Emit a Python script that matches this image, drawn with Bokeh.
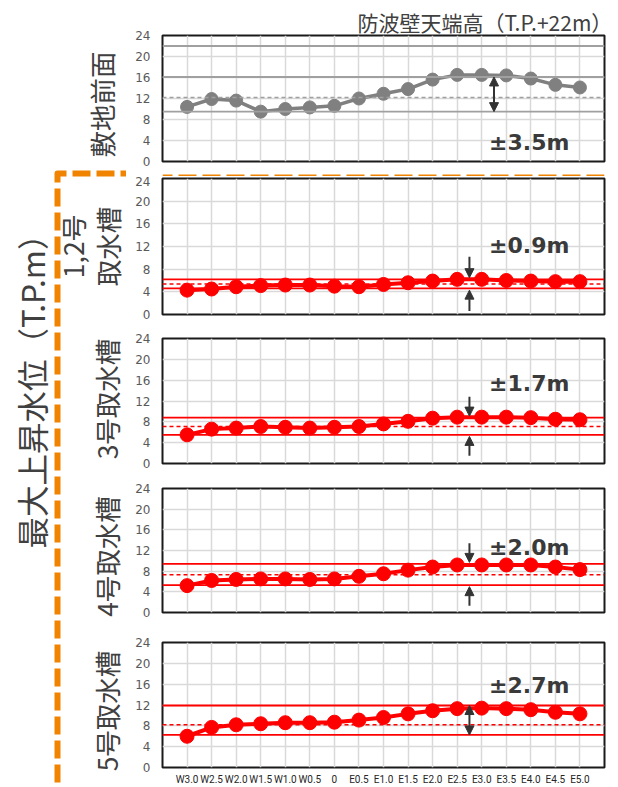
import numpy as np
from bokeh.plotting import figure
from bokeh.models import Range1d, FixedTicker, Arrow, NormalHead, Span
from bokeh.layouts import row, column
from bokeh.core.properties import value
from bokeh.embed import file_html
from bokeh.resources import INLINE

# ---------------- data ----------------
categories = ["W3.0", "W2.5", "W2.0", "W1.5", "W1.0", "W0.5", "0", "E0.5", "E1.0",
              "E1.5", "E2.0", "E2.5", "E3.0", "E3.5", "E4.0", "E4.5", "E5.0"]
site_front = [10.4, 11.9, 11.6, 9.5, 10.0, 10.3, 10.6, 12.0, 12.9, 13.8, 15.6, 16.5, 16.5, 16.4, 15.8, 14.6, 14.1]
intake_12 = [4.3, 4.5, 4.9, 5.1, 5.2, 5.2, 5.0, 4.9, 5.3, 5.6, 5.9, 6.2, 6.2, 6.0, 5.9, 5.8, 5.8]
intake_3 = [5.5, 6.6, 6.8, 7.1, 6.95, 6.8, 6.95, 7.1, 7.6, 8.1, 8.7, 8.9, 8.9, 8.9, 8.8, 8.5, 8.4]
intake_4 = [5.2, 6.2, 6.4, 6.5, 6.5, 6.4, 6.5, 7.0, 7.5, 8.2, 8.8, 9.2, 9.2, 9.2, 9.2, 8.8, 8.3]
intake_5 = [6.0, 7.7, 8.2, 8.4, 8.6, 8.6, 8.7, 9.1, 9.6, 10.3, 10.9, 11.3, 11.4, 11.3, 11.1, 10.6, 10.3]

panel_names = ["敷地前面", "1,2号\n取水槽", "3号取水槽", "4号取水槽", "5号取水槽"]
band_lower = [9.5, 4.6, 5.5, 5.3, 6.25]
band_mid = [12.2, 5.4, 7.1, 7.3, 8.2]
band_upper = [16.1, 6.2, 8.8, 9.4, 11.9]
band_labels = ["±3.5m", "±0.9m", "±1.7m", "±2.0m", "±2.7m"]
arrow_after = ["E3.0", "E2.5", "E2.5", "E2.5", "E2.5"]
arrow_style = ["double", "outer", "outer", "outer", "double"]
wall_height = 22
wall_label = "防波壁天端高（T.P.+22m）"
y_ticks = [0, 4, 8, 12, 16, 20, 24]
y_title = "最大上昇水位（T.P.m）"

series = [site_front, intake_12, intake_3, intake_4, intake_5]

# ---------------- layout / style ----------------
W_TOTAL, H_TOTAL = 618, 787
LEFT_W = 126
RIGHT_W = W_TOTAL - LEFT_W
STRIP_H = 8
# (figure height, border top, border bottom)
panel_layout = [(168, 35, 7), (150, 2, 12), (149, 12, 12), (151, 13, 14), (161, 16, 20)]
label_y = [3.6, 12.2, 15.3, 12.6, 15.8]
label_x = 13.3
name_x = [101, 89.5, 106, 106, 106]
name_dy = [6, 0, -2, 6, 6]
NAME_LINE = 35

GREY = "#808080"
RED = "#ff0000"
DARK = "#404040"
ORANGE = "#f08300"
CJK = "Noto Sans CJK JP"

x = np.arange(1, len(categories) + 1)
cat_pos = {c: i + 1 for i, c in enumerate(categories)}


def head():
    return NormalHead(size=9, fill_color="#333333", line_color="#333333")


panels = []
frame_centers = []
page_top = 0
for i in range(5):
    h, bt, bb = panel_layout[i]
    p = figure(width=RIGHT_W, height=h, x_range=Range1d(0, len(categories) + 1),
               y_range=Range1d(0, 24), output_backend="svg", toolbar_location=None,
               min_border_left=162 - LEFT_W, min_border_right=W_TOTAL - 604, min_border_top=bt,
               min_border_bottom=bb)
    frame_centers.append(page_top + bt + (h - bt - bb) / 2)
    page_top += h
    if i == 0:
        page_top += STRIP_H
    p.background_fill_color = "white"
    p.border_fill_color = "white"
    p.outline_line_color = "#1a1a1a"
    p.outline_line_width = 2
    # axes
    p.yaxis.ticker = FixedTicker(ticks=y_ticks)
    p.yaxis.axis_line_color = None
    p.yaxis.major_tick_line_color = None
    p.yaxis.minor_tick_line_color = None
    p.yaxis.major_tick_out = 0
    p.yaxis.major_label_standoff = 12
    p.yaxis.major_label_text_font = "DejaVu Sans"
    p.yaxis.major_label_text_font_size = "12px"
    p.yaxis.major_label_text_color = "#595959"
    p.xaxis.ticker = FixedTicker(ticks=list(x))
    p.xaxis.major_label_overrides = {int(k): c for k, c in zip(x, categories)}
    p.xaxis.axis_line_color = None
    p.xaxis.major_tick_line_color = None
    p.xaxis.minor_tick_line_color = None
    p.xaxis.major_tick_out = 0
    p.xaxis.major_label_standoff = 6
    p.xaxis.major_label_text_font = "Roboto"
    p.xaxis.major_label_text_font_size = "10px"
    p.xaxis.major_label_text_color = "#262626"
    p.xaxis.visible = (i == 4)
    # grid
    p.xgrid.ticker = FixedTicker(ticks=list(x))
    p.ygrid.ticker = FixedTicker(ticks=y_ticks)
    p.grid.grid_line_color = "#d9d9d9"
    p.grid.grid_line_width = 1.5

    color = GREY if i == 0 else RED
    band_color = "#a0a0a0" if i == 0 else RED
    if i == 0:
        p.add_layout(Span(location=wall_height, dimension="width", line_color=band_color, line_width=2))
        p.title.text = wall_label
        p.title.text_font = CJK
        p.title.text_font_size = "21px"
        p.title.text_font_style = "normal"
        p.title.text_color = DARK
        p.title.align = "left"
        p.title.offset = 195
        p.title.standoff = -3
    p.add_layout(Span(location=band_upper[i], dimension="width", line_color=band_color, line_width=1.8))
    p.add_layout(Span(location=band_lower[i], dimension="width", line_color=band_color, line_width=1.8))
    p.add_layout(Span(location=band_mid[i], dimension="width", line_color=band_color, line_width=1.5,
                      line_dash="4 3"))

    p.line(x, series[i], line_color=color, line_width=4 if i else 3.5)
    p.scatter(x, series[i], size=14 if i else 13, fill_color=color, line_color=color)

    ax = cat_pos[arrow_after[i]] + 0.5
    if arrow_style[i] == "double":
        p.add_layout(Arrow(start=head(), end=head(), x_start=ax, y_start=band_lower[i],
                           x_end=ax, y_end=band_upper[i], line_color="#333333", line_width=2))
    else:
        p.add_layout(Arrow(end=head(), x_start=ax, y_start=band_upper[i] + 4,
                           x_end=ax, y_end=band_upper[i] + 0.3, line_color="#333333", line_width=2))
        p.add_layout(Arrow(end=head(), x_start=ax, y_start=band_lower[i] - 4,
                           x_end=ax, y_end=band_lower[i] - 0.3, line_color="#333333", line_width=2))

    p.text(x=[label_x], y=[label_y[i]], text=[band_labels[i]], text_font=value("DejaVu Sans"),
           text_font_style="bold", text_font_size="22px", text_color="#3a3a3a",
           text_align="left", text_baseline="middle")
    panels.append(p)

# orange strip (horizontal part of the dashed frame), drawn right-to-left
strip = figure(width=RIGHT_W, height=STRIP_H, x_range=Range1d(0, RIGHT_W), y_range=Range1d(0, STRIP_H),
               output_backend="svg", toolbar_location=None, x_axis_location=None,
               y_axis_location=None, min_border=0)
strip.grid.visible = False
strip.outline_line_color = None
strip.line([RIGHT_W, 0], [STRIP_H / 2 - 1, STRIP_H / 2 - 1], line_color=ORANGE, line_width=6,
           line_dash="18 6", line_dash_offset=0)

# left column: big title, panel names, dashed frame
lf = figure(width=LEFT_W, height=H_TOTAL, x_range=Range1d(0, LEFT_W), y_range=Range1d(0, H_TOTAL),
            output_backend="svg", toolbar_location=None, x_axis_location=None,
            y_axis_location=None, min_border=0)
lf.grid.visible = False
lf.outline_line_color = None


def ly(page_y):
    return H_TOTAL - page_y


corner_x = 57
corner_y = ly(173)
lf.line([LEFT_W, corner_x, corner_x], [corner_y, corner_y, 0], line_color=ORANGE, line_width=6,
        line_dash="18 6", line_dash_offset=12, line_join="round")

nx, ny, nt = [], [], []
for i, name in enumerate(panel_names):
    lines = name.split("\n")
    n = len(lines)
    for j, t in enumerate(lines):
        nx.append(name_x[i] + (j - (n - 1) / 2) * NAME_LINE)
        ny.append(ly(frame_centers[i] + name_dy[i]))
        nt.append(t)
lf.text(x=nx, y=ny, text=nt, angle=np.pi / 2, text_font=value(CJK), text_font_size="26.5px",
        text_color=DARK, text_align="center", text_baseline="middle")
lf.text(x=[30], y=[ly(383)], text=[y_title], angle=np.pi / 2, text_font=value(CJK),
        text_font_size="31.5px", text_color=DARK, text_align="center", text_baseline="middle")

right_col = column(panels[0], strip, *panels[1:])
layout = row(lf, right_col)

open("out.html", "w").write(file_html(layout, INLINE))
